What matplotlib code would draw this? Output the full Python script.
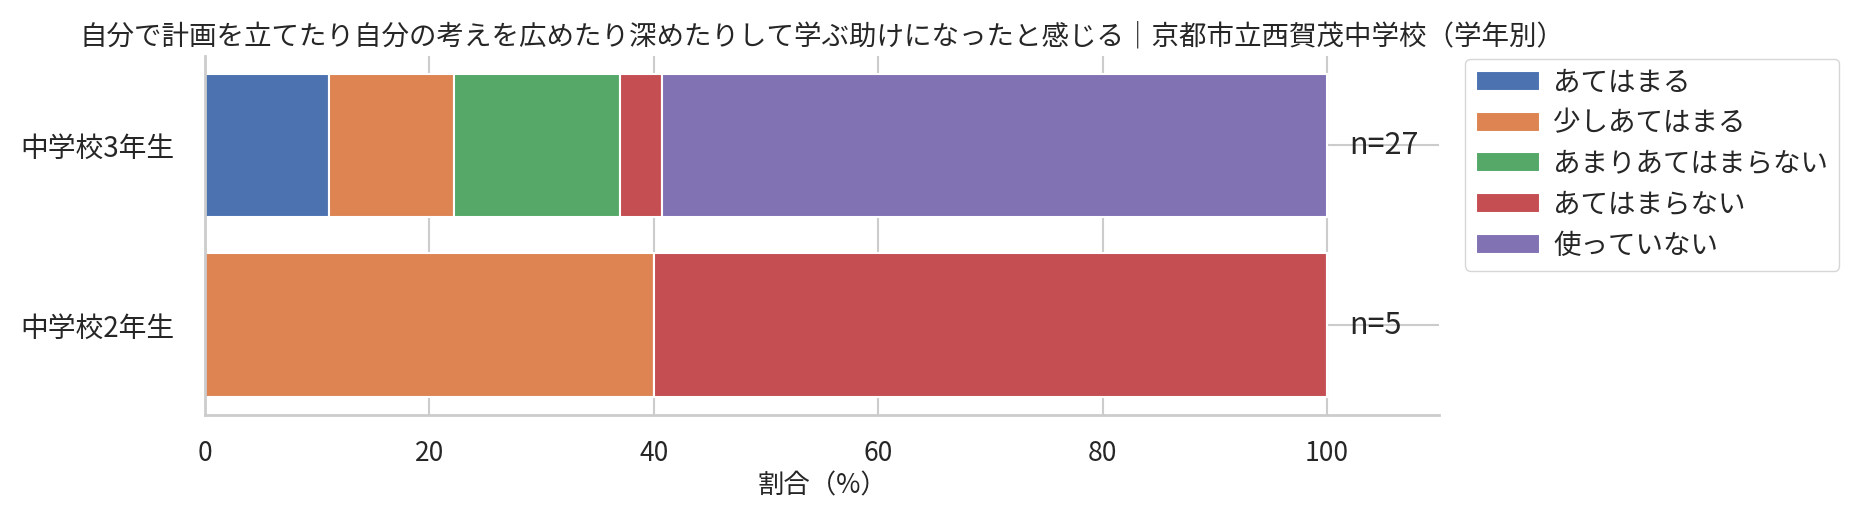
import numpy as np
import matplotlib
matplotlib.use("Agg")
import matplotlib.pyplot as plt
import seaborn as sns

# data (percent of respondents per grade)
grades = ["中学校2年生", "中学校3年生"]
counts = [5, 27]
categories = ["あてはまる", "少しあてはまる", "あまりあてはまらない", "あてはまらない", "使っていない"]
vals_g2 = [0.0, 40.0, 0.0, 60.0, 0.0]
vals_g3 = [11.1, 11.1, 14.8, 3.7, 59.3]
title = "自分で計画を立てたり自分の考えを広めたり深めたりして学ぶ助けになったと感じる｜京都市立西賀茂中学校（学年別）"

sns.set_theme(style="whitegrid")
plt.rcParams['font.family'] = ['Noto Sans CJK JP', 'DejaVu Sans']
colors = sns.color_palette("deep", 5)

fig, ax = plt.subplots(figsize=(18.62, 5.29), dpi=100)
fig.subplots_adjust(left=0.11, right=0.773, top=0.895, bottom=0.215)

data = np.array([vals_g2, vals_g3])
y = np.arange(len(grades))
left = np.zeros(len(grades))
for i, cat in enumerate(categories):
    ax.barh(y, data[:, i], left=left, height=0.8, color=colors[i],
            edgecolor="white", linewidth=1.5, label=cat, zorder=2)
    left += data[:, i]

for yi, n in zip(y, counts):
    ax.text(102, yi, "n=%d" % n, ha="left", va="center", fontsize=22, color="#262626", zorder=3)

ax.set_yticks(y)
ax.set_yticklabels(grades, fontsize=20)
ax.set_ylim(-0.5, 1.5)
ax.set_xlim(0, 110)
ax.set_xticks([0, 20, 40, 60, 80, 100])
ax.tick_params(axis="x", labelsize=19, pad=12)
ax.tick_params(axis="y", pad=16)
ax.set_xlabel("割合（%）", fontsize=19, labelpad=4)
ax.set_title(title, fontsize=19.8, loc="center", x=0.5, pad=8)
ax.grid(True, color="#cccccc", linewidth=1.5, zorder=0)
ax.set_axisbelow(True)
sns.despine(ax=ax)
for s in ["left", "bottom"]:
    ax.spines[s].set_color("#cccccc")
    ax.spines[s].set_linewidth(2)

ax.legend(loc="upper left", bbox_to_anchor=(1.01, 1.03), fontsize=19.8, frameon=True,
          handlelength=2.3, handleheight=0.75, labelspacing=0.5, handletextpad=0.5)

fig.savefig("out.png", dpi=100)
